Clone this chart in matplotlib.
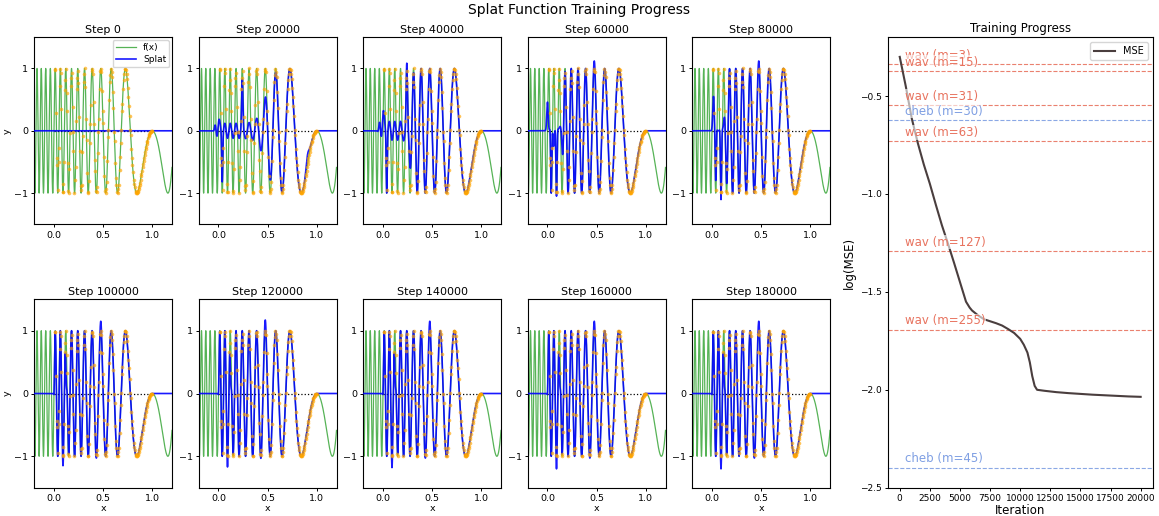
import numpy as np
import matplotlib
matplotlib.use("Agg")
import matplotlib.pyplot as plt

# ---------------- data ----------------
steps = [0, 20000, 40000, 60000, 80000, 100000, 120000, 140000, 160000, 180000]

# target chirp f(x) = -sin(A (1-x)^2), A read from the zero/peak positions
CHIRP_A = 20 * np.pi

# training sample x positions
sample_x = [0.011, 0.014, 0.023, 0.029, 0.030, 0.041, 0.047, 0.049, 0.058, 0.066, 0.068, 0.075,
            0.087, 0.090, 0.093, 0.101, 0.112, 0.114, 0.119, 0.128, 0.131, 0.139, 0.146, 0.148,
            0.157, 0.163, 0.171, 0.173, 0.182, 0.190, 0.194, 0.197, 0.208, 0.216, 0.219, 0.227,
            0.233, 0.236, 0.245, 0.249, 0.256, 0.262, 0.270, 0.272, 0.281, 0.289, 0.292, 0.303,
            0.306, 0.311, 0.320, 0.327, 0.331, 0.338, 0.347, 0.350, 0.356, 0.365, 0.369, 0.373,
            0.384, 0.390, 0.393, 0.402, 0.407, 0.415, 0.418, 0.426, 0.433, 0.436, 0.447, 0.452,
            0.455, 0.463, 0.471, 0.474, 0.481, 0.489, 0.495, 0.498, 0.507, 0.513, 0.521, 0.524,
            0.532, 0.536, 0.544, 0.551, 0.553, 0.562, 0.569, 0.573, 0.579, 0.588, 0.592, 0.599,
            0.605, 0.613, 0.616, 0.624, 0.631, 0.635, 0.643, 0.648, 0.655, 0.658, 0.667, 0.673,
            0.679, 0.684, 0.692, 0.695, 0.703, 0.709, 0.714, 0.722, 0.725, 0.733, 0.739, 0.744,
            0.751, 0.757, 0.762, 0.768, 0.776, 0.779, 0.787, 0.793, 0.798, 0.804, 0.811, 0.816,
            0.821, 0.829, 0.833, 0.838, 0.842, 0.846, 0.851, 0.855, 0.861, 0.866, 0.871, 0.874,
            0.880, 0.886, 0.889, 0.895, 0.901, 0.906, 0.911, 0.915, 0.921, 0.926, 0.931, 0.935,
            0.941, 0.947, 0.950, 0.956, 0.962, 0.966, 0.971, 0.977, 0.980, 0.986, 0.991, 0.995, 0.999]

# Splat fit state per step:
# left cut, gain ramp (mid, width), gain floor, gain patches (centre, width, amount),
# additive bumps (centre, width, height)
splat_left = [None, -0.04, -0.045, -0.03, -0.025, -0.01, -0.01, -0.01, -0.01, -0.01]
splat_ramp = [None, (0.48, 0.04), (0.275, 0.015), (0.155, 0.008), (0.135, 0.008),
              (0.003, 0.002), (0.003, 0.002), (0.003, 0.002), (0.003, 0.002), (0.003, 0.002)]
splat_floor = [0, 0.12, 0.15, 0.0, 0.0, 0, 0, 0, 0, 0]
splat_gain = [
    [],
    [(0.038, 0.008, 0.70), (0.242, 0.010, 0.70)],
    [(0.038, 0.008, 0.85), (0.242, 0.010, 0.85)],
    [(0.038, 0.009, 1.00), (0.092, 0.009, 1.05), (0.476, 0.012, 0.12)],
    [(0.038, 0.009, 0.80), (0.092, 0.009, 1.10), (0.476, 0.012, 0.12)],
    [(0.092, 0.008, 0.15), (0.476, 0.012, 0.15), (0.44, 0.010, 0.07), (0.128, 0.012, -0.85)],
    [(0.092, 0.008, 0.17), (0.476, 0.012, 0.17), (0.44, 0.010, 0.08), (0.128, 0.012, -0.85)],
    [(0.092, 0.008, 0.18), (0.476, 0.012, 0.15), (0.44, 0.010, 0.07), (0.128, 0.012, -0.85)],
    [(0.092, 0.008, 0.20), (0.476, 0.012, 0.15), (0.44, 0.010, 0.07), (0.128, 0.012, -0.85)],
    [(0.092, 0.008, 0.20), (0.476, 0.012, 0.15), (0.44, 0.010, 0.07), (0.128, 0.012, -0.85)],
]
splat_bumps = [
    [],
    [(0.0, 0.012, 0.13), (0.905, 0.02, 0.15)],
    [(0.0, 0.012, 0.28)],
    [(0.0, 0.010, 0.46), (0.062, 0.008, -0.25), (0.13, 0.02, 0.05)],
    [(0.015, 0.010, 0.55), (0.13, 0.02, 0.03)],
    [], [], [], [], [],
]

# Training progress (log MSE)
mse_iter = [0, 500, 1000, 1500, 2000, 2500, 3000, 3500, 4000, 4500, 5000, 5500, 5800,
            6000, 6500, 7000, 7500, 8000, 8500, 9000, 9500, 10000, 10300, 10600, 10800,
            11000, 11200, 11400, 12000, 13000, 14000, 15000, 16000, 17000, 18000, 19000, 20000]
mse_log = [-0.30, -0.45, -0.615, -0.74, -0.85, -0.948, -1.056, -1.16, -1.253, -1.35, -1.45,
           -1.55, -1.58, -1.595, -1.62, -1.64, -1.65, -1.66, -1.672, -1.69, -1.71, -1.74,
           -1.77, -1.81, -1.86, -1.93, -1.98, -2.0, -2.005, -2.012, -2.017, -2.021, -2.025,
           -2.028, -2.031, -2.034, -2.036]

ref_labels = ["wav (m=3)", "wav (m=15)", "wav (m=31)", "cheb (m=30)", "wav (m=63)",
              "wav (m=127)", "wav (m=255)", "cheb (m=45)"]
ref_values = [-0.338, -0.372, -0.547, -0.622, -0.732, -1.291, -1.693, -2.397]

# ---------------- helpers ----------------
def f_target(x):
    return -np.sin(CHIRP_A * (1 - x) ** 2)


def sig(z):
    return 1.0 / (1.0 + np.exp(-z))


def splat_curve(i, x):
    if steps[i] == 0:
        return np.zeros_like(x)
    mid, w = splat_ramp[i]
    ramp = sig((x - mid) / w)
    gain = ramp + splat_floor[i] * (1 - ramp)
    for c, ww, a in splat_gain[i]:
        gain = gain + a * np.exp(-((x - c) / ww) ** 2)
    y = f_target(x) * gain
    for c, ww, h in splat_bumps[i]:
        y = y + h * np.exp(-((x - c) / ww) ** 2)
    window = sig((x - splat_left[i]) / 0.004) * (x <= 1.0)
    return y * window


# ---------------- figure ----------------
W, H = 1159, 516
fig = plt.figure(figsize=(W / 100, H / 100), dpi=100)

x_fine = np.linspace(-0.2, 1.2, 6000)
sx = np.array(sample_x)

pan_left0, pan_w, pan_step = 34.3, 137.7, 164.5
rows = [(37.3, 224.3), (299.3, 487.7)]

for i, st in enumerate(steps):
    r, c = divmod(i, 5)
    top, bot = rows[r]
    left = pan_left0 + c * pan_step
    ax = fig.add_axes([left / W, 1 - bot / H, pan_w / W, (bot - top) / H])
    ax.plot(x_fine, f_target(x_fine), color="#2ca02c", lw=0.9, alpha=0.8, label="f(x)", zorder=1)
    ax.plot([0, 1], [0, 0], "k:", lw=0.9, zorder=2)
    ax.plot(x_fine, splat_curve(i, x_fine), color="blue", lw=1.2, alpha=0.9, label="Splat", zorder=3)
    ax.plot(sx, f_target(sx), "o", color="orange", ms=2.6, alpha=0.65, mew=0, zorder=4)
    ax.set_xlim(-0.2, 1.2)
    ax.set_ylim(-1.5, 1.5)
    ax.set_xticks([0.0, 0.5, 1.0])
    ax.set_yticks([-1, 0, 1])
    ax.tick_params(labelsize=6.8, length=2.5, width=0.7, pad=2)
    ax.set_title(f"Step {st}", fontsize=8, pad=3)
    if c == 0:
        ax.set_ylabel("y", fontsize=6.8, labelpad=2)
    if r == 1:
        ax.set_xlabel("x", fontsize=6.8, labelpad=1)
    if i == 0:
        ax.legend(loc="upper right", fontsize=6.5, handlelength=2.2, borderpad=0.35,
                  labelspacing=0.35, handletextpad=0.8, borderaxespad=0.3)

# right panel
axr = fig.add_axes([887.7 / W, 1 - 487.7 / H, (1152.7 - 887.7) / W, (487.7 - 37.3) / H])
for lab, val in zip(ref_labels, ref_values):
    col = "#7f9fe3" if lab.startswith("cheb") else "#e8735f"
    axr.axhline(val, color=col, ls="--", lw=0.8, alpha=0.9, zorder=1)
    axr.text(400, val + 0.012, lab, color=col, fontsize=8.5, va="bottom", ha="left",
             bbox=dict(facecolor="white", alpha=0.6, edgecolor="none", pad=0.5), zorder=3)
axr.plot(mse_iter, mse_log, color="#4a3e3e", lw=1.5, label="MSE", zorder=2)
axr.set_xlim(-1000, 21000)
axr.set_ylim(-2.5, -0.2)
axr.set_xticks([0, 2500, 5000, 7500, 10000, 12500, 15000, 17500, 20000])
axr.set_yticks([-2.5, -2.0, -1.5, -1.0, -0.5])
axr.tick_params(labelsize=6.5, length=2.5, width=0.7, pad=2)
axr.set_title("Training Progress", fontsize=8.5, pad=4)
axr.set_xlabel("Iteration", fontsize=8.5, labelpad=1)
axr.set_ylabel("log(MSE)", fontsize=8.5, labelpad=3)
axr.legend(loc="upper right", fontsize=7, handlelength=2.2, borderpad=0.4)

fig.suptitle("Splat Function Training Progress", fontsize=10, y=0.995)

fig.savefig("out.png", dpi=100)
